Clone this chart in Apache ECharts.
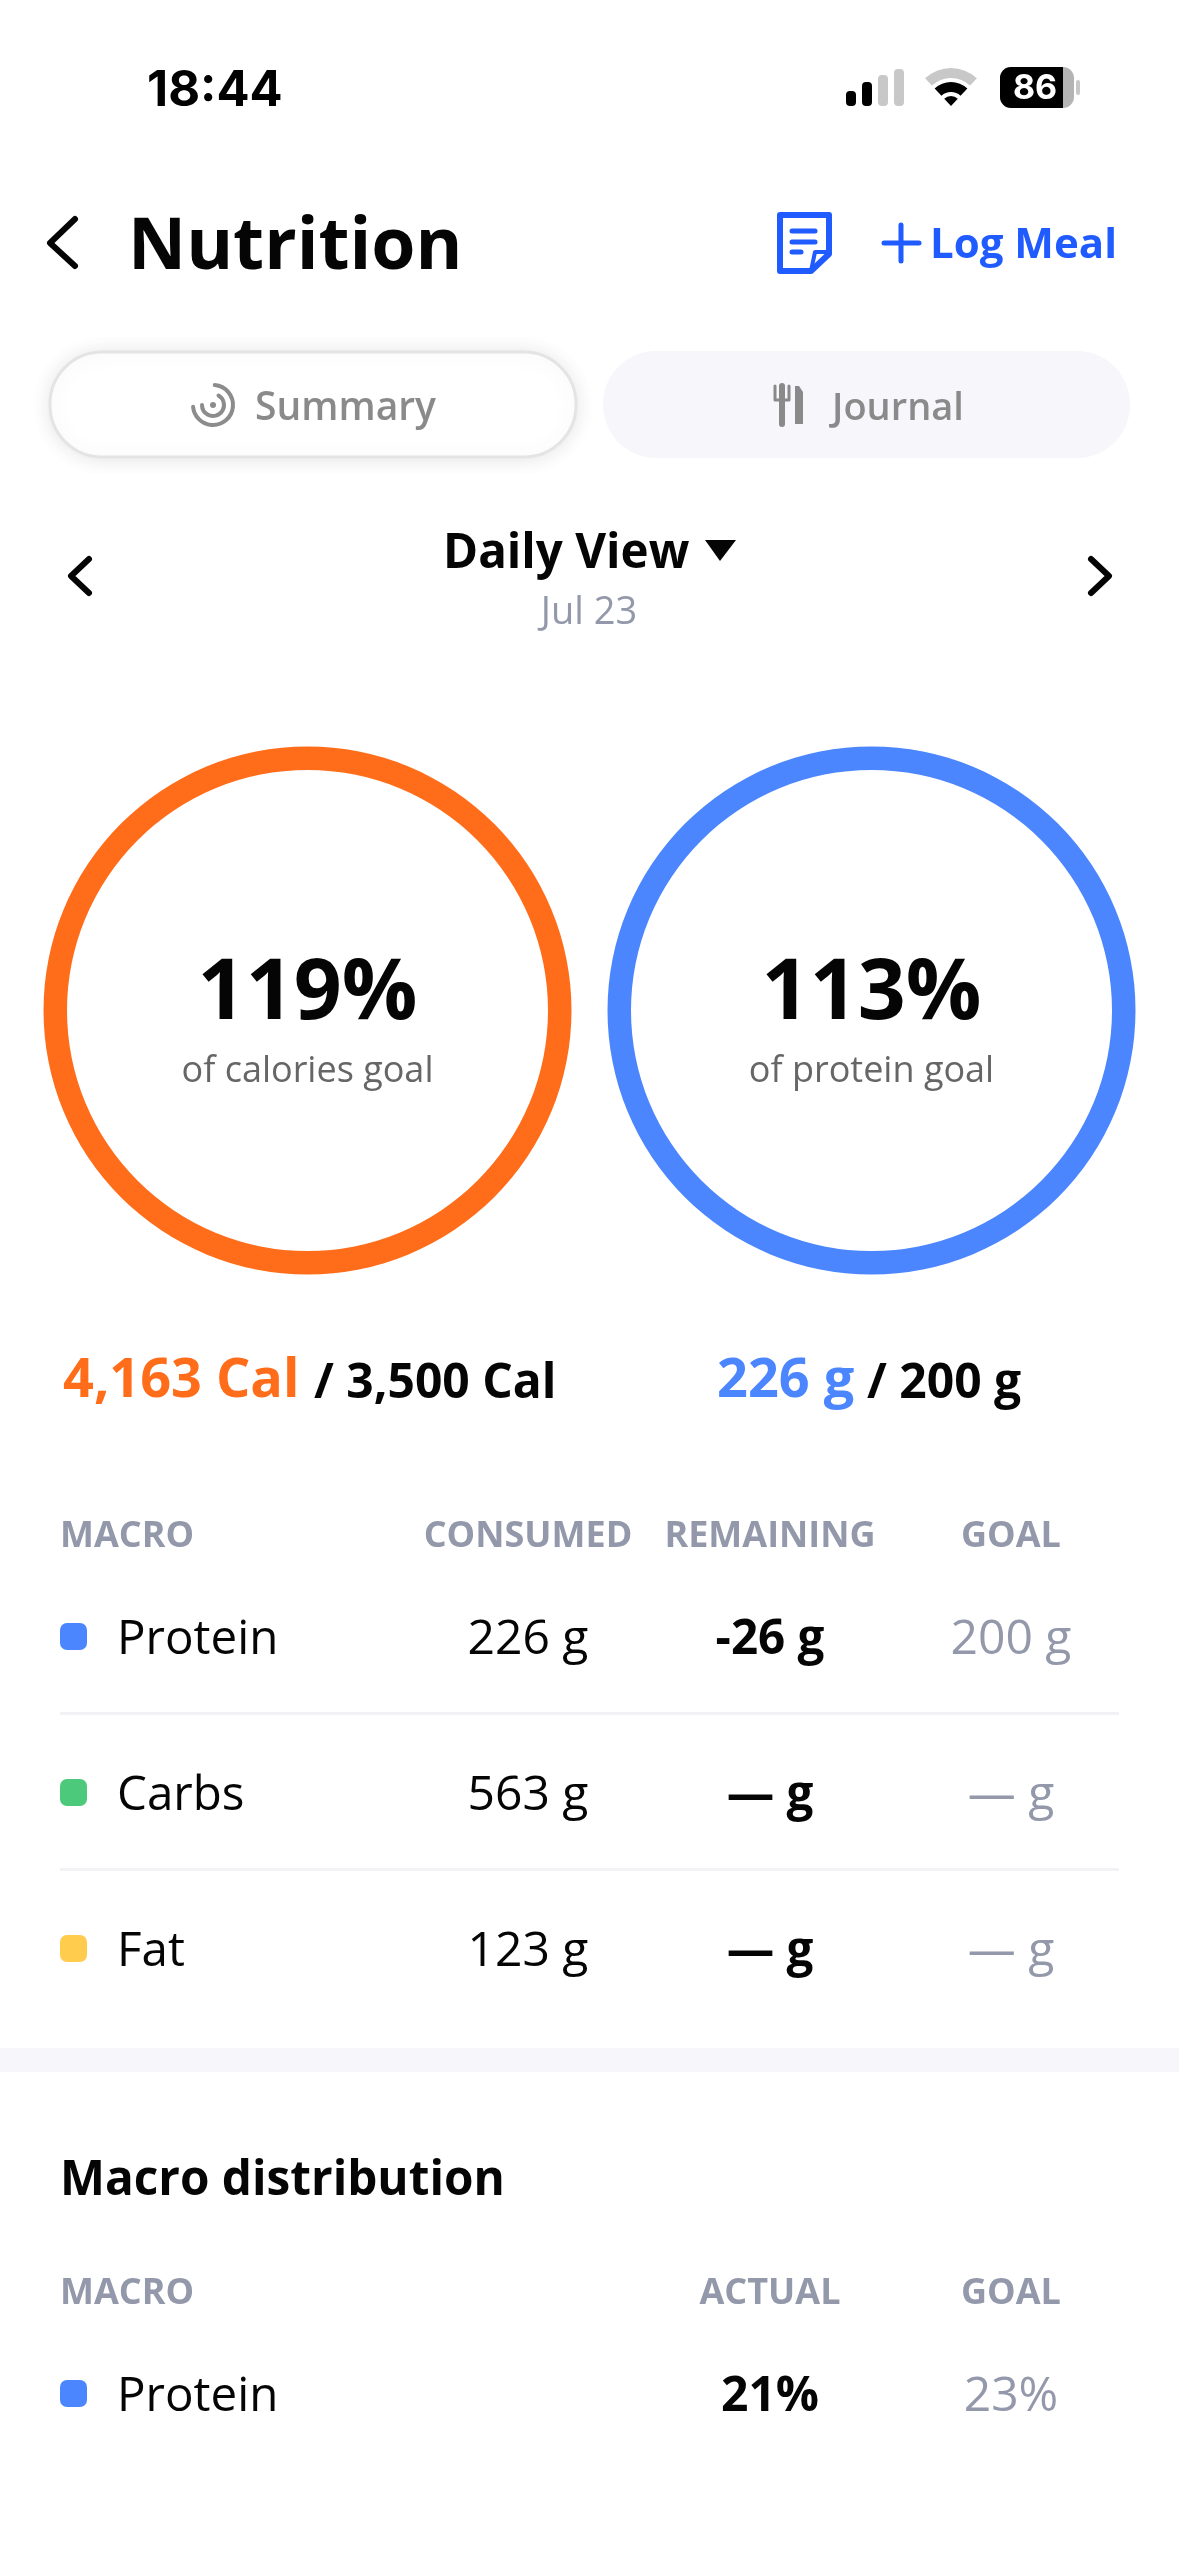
<!DOCTYPE html>
<html><head><meta charset="utf-8">
<style>html,body{margin:0;padding:0;background:#fff}#c{width:1179px;height:2556px}</style>
<script src="https://cdn.jsdelivr.net/npm/echarts@6/dist/echarts.min.js"></script>
</head><body><div id="c"></div>
<script>
const ringLabels = ['of calories goal', 'of protein goal'];
const ringPercents = [119, 113];
const ringColors = ['#FF6D1A', '#4B86FF'];
const ringConsumed = ['4,163 Cal', '226 g'];
const ringGoals = ['/ 3,500 Cal', '/ 200 g'];
const macroNames = ['Protein', 'Carbs', 'Fat'];
const macroColors = ['#4B86FF', '#4CC97A', '#FFCC4D'];
const macroConsumed = ['226 g', '563 g', '123 g'];
const macroRemaining = ['-26 g', '— g', '— g'];
const macroGoal = ['200 g', '— g', '— g'];
const tableHeaders = ['MACRO', 'CONSUMED', 'REMAINING', 'GOAL'];
const distHeaders = ['MACRO', 'ACTUAL', 'GOAL'];
const distNames = ['Protein'];
const distActual = ['21%'];
const distGoal = ['23%'];

const F = '"Open Sans", sans-serif';
const BLACK = '#050505', GREY = '#9398AA', BLUE = '#1F5BFF', PALE = '#F7F7FB';
const g = [];
function T(text, x, y, size, weight, fill, align, family) {
  g.push({type:'text', silent:true, x, y, style:{text, x:0, y:0, fill, align:align||'left', verticalAlign:'middle',
    font:`${weight} ${size}px ${family||F}`}});
}
function poly(points, stroke, lw) {
  g.push({type:'polyline', silent:true, shape:{points}, style:{stroke, lineWidth:lw, fill:null, lineCap:'round', lineJoin:'round'}});
}
function rect(x, y, w, h, r, fill, extra) {
  g.push({type:'rect', silent:true, shape:{x,y,width:w,height:h,r}, style:Object.assign({fill}, extra||{})});
}
function arc(cx, cy, r, a, b, stroke, lw) {
  g.push({type:'arc', silent:true, shape:{cx,cy,r,startAngle:a*Math.PI/180,endAngle:b*Math.PI/180,clockwise:true},
    style:{stroke, lineWidth:lw, fill:null, lineCap:'round'}});
}
function sector(cx, cy, r0, r, fill) {
  g.push({type:'sector', silent:true, shape:{cx,cy,r0,r,startAngle:-133*Math.PI/180,endAngle:-47*Math.PI/180,clockwise:true}, style:{fill}});
}
// status bar
T('18:44', 147, 91, 49, 700, '#000', 'left', 'Inter, sans-serif');
rect(846,91,10,15,4,'#000'); rect(862,82,10,24,4,'#000'); rect(878,75,10,31,4,'#C8C8C8'); rect(894,69,10,37,4,'#C8C8C8');
sector(951,106,28,38,'#C8C8C8'); sector(951,106,14,24,'#000'); sector(951,106,0,10,'#000');
rect(1000,67,74,41,11,'#B4B4B4');
g.push({type:'rect', silent:true, shape:{x:1000,y:67,width:63,height:41,r:[11,0,0,11]}, style:{fill:'#000'}});
rect(1076,80,4,15,2,'#C8C8C8');
T('86', 1035, 89, 34, 700, '#fff', 'center', 'Inter, sans-serif');
// header
poly([[75,219],[50,243],[75,266]], BLACK, 6);
T('Nutrition', 128, 249, 71.5, 700, BLACK);
poly([[780,215],[829,215],[829,254],[811,271],[780,271],[780,215]], BLUE, 6);
poly([[829,252],[815,252],[811,271]], BLUE, 4);
poly([[792,231],[815,231]],BLUE,5); poly([[792,242],[815,242]],BLUE,5); poly([[792,252],[801,252]],BLUE,5);
poly([[884,243],[919,243]],BLUE,5); poly([[901,225],[901,261]],BLUE,5);
T('Log Meal', 930, 246, 42, 700, BLUE);
// tabs
rect(50,352,526,105,52,'#fff',{stroke:'#E4E4E6',lineWidth:3,shadowBlur:20,shadowColor:'rgba(0,0,0,0.10)',shadowOffsetY:1});
rect(603,351,527,107,53,PALE);
arc(213,405,20,-85,175,'#8C8C8C',4); arc(213,405,11,-60,180,'#8C8C8C',4); rect(210,402,6,6,3,'#8C8C8C');
T('Summary', 255, 409, 39, 600, '#8A8A8A');
poly([[775,386],[775,400],[789,400],[789,386]],'#8A8A8A',3); poly([[782,386],[782,424]],'#8A8A8A',6);
g.push({type:'polygon', silent:true, shape:{points:[[795,424],[795,386],[799,386],[803,392],[803,424]]}, style:{fill:'#8A8A8A'}});
T('Journal', 832, 409, 38, 600, '#8A8A8A');
// date nav
T('Daily View', 443, 554, 47.5, 700, BLACK);
g.push({type:'polygon', silent:true, shape:{points:[[705,540],[736,540],[720,561]]}, style:{fill:BLACK, lineJoin:'round'}});
T('Jul 23', 589, 613, 38, 400, GREY, 'center');
poly([[89,559],[71,576],[89,593]], BLACK, 6);
poly([[1091,559],[1109,576],[1091,593]], BLACK, 6);
// ring text
const ringX = [307.5, 871.5];
ringPercents.forEach((p,i)=>{
  T(p+'%', ringX[i], 995, 84, 700, BLACK, 'center');
  T(ringLabels[i], ringX[i], 1072, 36, 400, '#666', 'center');
});
T(ringConsumed[0], 63, 1382, 54, 700, ringColors[0]);
T(ringGoals[0], 314, 1384, 48, 700, BLACK);
T(ringConsumed[1], 717, 1382, 54, 700, ringColors[1]);
T(ringGoals[1], 867, 1384, 48, 700, BLACK);
// macro table
const colX = [60, 528, 770, 1011];
tableHeaders.forEach((h,i)=>T(h, colX[i], 1537, 36, 700, GREY, i?'center':'left'));
const rowY = [1640, 1796, 1952];
macroNames.forEach((n,i)=>{
  rect(60, 1623 + i*156, 27, 27, 7, macroColors[i]);
  T(n, 117, rowY[i], 47.5, 400, BLACK);
  T(macroConsumed[i], colX[1], rowY[i], 48, 400, BLACK, 'center');
  T(macroRemaining[i], colX[2], rowY[i], 47.5, 700, BLACK, 'center');
  T(macroGoal[i], colX[3], rowY[i], 48, 400, GREY, 'center');
});
rect(60,1712,1059,3,0,'#F2F2F4'); rect(60,1868,1059,3,0,'#F2F2F4');
rect(0,2048,1179,24,0,PALE);
// distribution
T('Macro distribution', 60, 2181, 47.7, 700, BLACK);
const distX = [60, 770, 1011];
distHeaders.forEach((h,i)=>T(h, distX[i], 2294, 36, 700, GREY, i?'center':'left'));
distNames.forEach((n,i)=>{
  rect(60, 2380, 27, 27, 7, macroColors[i]);
  T(n, 117, 2397, 47.5, 400, BLACK);
  T(distActual[i], distX[1], 2397, 48, 700, BLACK, 'center');
  T(distGoal[i], distX[2], 2397, 48, 400, GREY, 'center');
});

const chart = echarts.init(document.getElementById('c'), null, {width:1179, height:2556, renderer:'canvas', devicePixelRatio:1});
chart.setOption({
  backgroundColor:'#fff', animation:false,
  tooltip:{show:false},
  series: ringPercents.map((p,i)=>({
    type:'pie', silent:true, center:[ringX[i],1010.5], radius:[240.5,264],
    label:{show:false}, labelLine:{show:false},
    data:[{name:ringLabels[i], value:p, itemStyle:{color:ringColors[i]}}]
  })),
  graphic:{elements:g}
});
</script></body></html>
